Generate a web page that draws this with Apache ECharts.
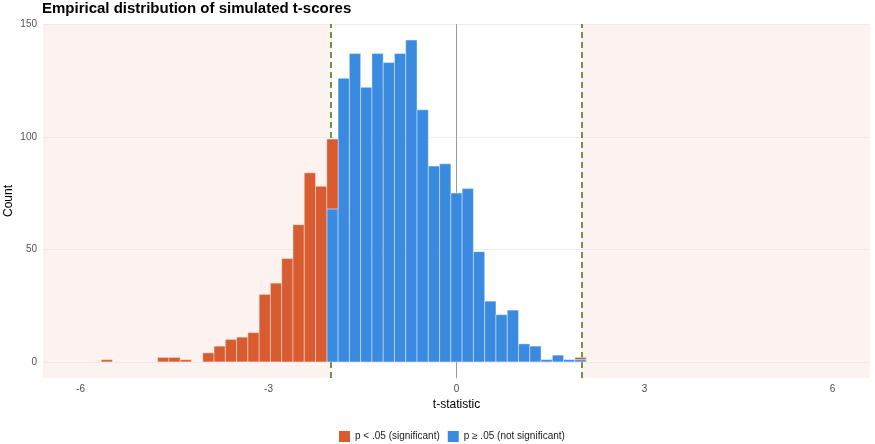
<!DOCTYPE html>
<html>
<head>
<meta charset="utf-8">
<script src="https://cdn.jsdelivr.net/npm/echarts@6/dist/echarts.min.js"></script>
<style>
  html, body { margin: 0; padding: 0; background: #fff; }
  #chart { width: 875px; height: 444px; }
</style>
</head>
<body>
<div id="chart"></div>
<script>
// Histogram bins: width 0.18, first bin starts at -5.67
const BIN_WIDTH = 0.18;
const BIN_START = -5.67;
const T_CRIT = 2.0;

// counts per bin, p < .05 (stacked on top)
const sigCounts = [
  1, 0, 0, 0, 0, 2, 2, 1, 0, 4,
  7, 10, 11, 13, 30, 35, 46, 61, 84, 78,
  31, 0, 0, 0, 0, 0, 0, 0, 0, 0,
  0, 0, 0, 0, 0, 0, 0, 0, 0, 0,
  0, 0, 1
];

// counts per bin, p >= .05 (bottom of stack)
const nonsigCounts = [
  0, 0, 0, 0, 0, 0, 0, 0, 0, 0,
  0, 0, 0, 0, 0, 0, 0, 0, 0, 0,
  68, 126, 137, 122, 137, 133, 137, 143, 112, 87,
  88, 75, 77, 49, 27, 21, 23, 8, 7, 1,
  3, 1, 1
];

const xTicks = [-6, -3, 0, 3, 6];
const yTicks = [0, 50, 100, 150];

const SIG_COLOR = "#d95b30";
const NONSIG_COLOR = "#3a8bdf";
const FONT = "Liberation Sans, Arial, sans-serif";

// build [x0, x1, yBottom, yTop] rows for each group
const nonsigRows = [];
const sigRows = [];
nonsigCounts.forEach((n, i) => {
  const x0 = +(BIN_START + i * BIN_WIDTH).toFixed(2);
  const x1 = +(x0 + BIN_WIDTH).toFixed(2);
  const s = sigCounts[i];
  if (n > 0) nonsigRows.push([x0, x1, 0, n]);
  if (s > 0) sigRows.push([x0, x1, n, n + s]);
});

function barRenderer(color) {
  return (params, api) => {
    const p0 = api.coord([api.value(0), api.value(3)]);
    const p1 = api.coord([api.value(1), api.value(2)]);
    return {
      type: "rect",
      shape: { x: p0[0], y: p0[1], width: p1[0] - p0[0], height: p1[1] - p0[1] },
      style: { fill: color, stroke: "rgba(255,255,255,0.4)", lineWidth: 1 },
    };
  };
}

const chart = echarts.init(document.getElementById("chart"));

chart.setOption({
  animation: false,
  backgroundColor: "#fff",
  textStyle: { fontFamily: FONT },
  title: {
    text: "Empirical distribution of simulated t-scores",
    left: 42,
    top: 1,
    padding: 0,
    textStyle: { fontSize: 15, fontWeight: "bold", color: "#000", fontFamily: FONT },
  },
  grid: { left: 43, right: 5, top: 24, bottom: 66, outerBoundsMode: "none", containLabel: false },
  legend: {
    left: 339,
    top: 431,
    padding: 0,
    itemWidth: 11,
    itemHeight: 11,
    itemGap: 8,
    icon: "rect",
    textStyle: { fontSize: 10, color: "#1a1a1a", fontFamily: FONT },
    data: ["p < .05 (significant)", "p \u2265 .05 (not significant)"],
  },
  xAxis: {
    type: "value",
    min: -6.6,
    max: 6.6,
    name: "t-statistic",
    nameLocation: "middle",
    nameGap: 21,
    nameMoveOverlap: false,
    nameTextStyle: { fontSize: 12, color: "#000", fontFamily: FONT },
    axisLine: { show: false },
    axisTick: { show: false, customValues: xTicks },
    axisLabel: { customValues: xTicks, color: "#4d4d4d", fontSize: 10, margin: 6, fontFamily: FONT },
    splitLine: { show: false },
  },
  yAxis: {
    type: "value",
    min: -7.15,
    max: 150.15,
    name: "Count",
    nameLocation: "middle",
    nameGap: 28,
    nameMoveOverlap: false,
    nameTextStyle: { fontSize: 12, color: "#000", fontFamily: FONT },
    axisLine: { show: false },
    axisTick: { show: false, customValues: yTicks },
    axisLabel: { customValues: yTicks, color: "#555", fontSize: 10, margin: 6, fontFamily: FONT },
    splitLine: { show: true, lineStyle: { color: "#ebebeb", width: 1 } },
  },
  series: [
    {
      name: "regions",
      type: "line",
      data: [],
      z: -1,
      silent: true,
      markArea: {
        silent: true,
        z: -1,
        itemStyle: { color: "rgba(217,91,48,0.08)" },
        data: [
          [{ xAxis: -6.6 }, { xAxis: -T_CRIT }],
          [{ xAxis: T_CRIT }, { xAxis: 6.6 }],
        ],
      },
    },
    {
      name: "lines",
      type: "line",
      data: [],
      z: 1,
      silent: true,
      markLine: {
        silent: true,
        z: 1,
        symbol: "none",
        label: { show: false },
        data: [
          { xAxis: 0, lineStyle: { color: "#9a9a9a", width: 1, type: "solid" } },
          { xAxis: -T_CRIT, lineStyle: { color: "#6f9444", width: 2, type: [6, 4] } },
          { xAxis: T_CRIT, lineStyle: { color: "#6f9444", width: 2, type: [6, 4] } },
        ],
      },
    },
    {
      name: "p \u2265 .05 (not significant)",
      type: "custom",
      z: 3,
      itemStyle: { color: NONSIG_COLOR },
      renderItem: barRenderer(NONSIG_COLOR),
      encode: { x: [0, 1], y: [2, 3] },
      data: nonsigRows,
    },
    {
      name: "p < .05 (significant)",
      type: "custom",
      z: 3,
      itemStyle: { color: SIG_COLOR },
      renderItem: barRenderer(SIG_COLOR),
      encode: { x: [0, 1], y: [2, 3] },
      data: sigRows,
    },
  ],
});
</script>
</body>
</html>
